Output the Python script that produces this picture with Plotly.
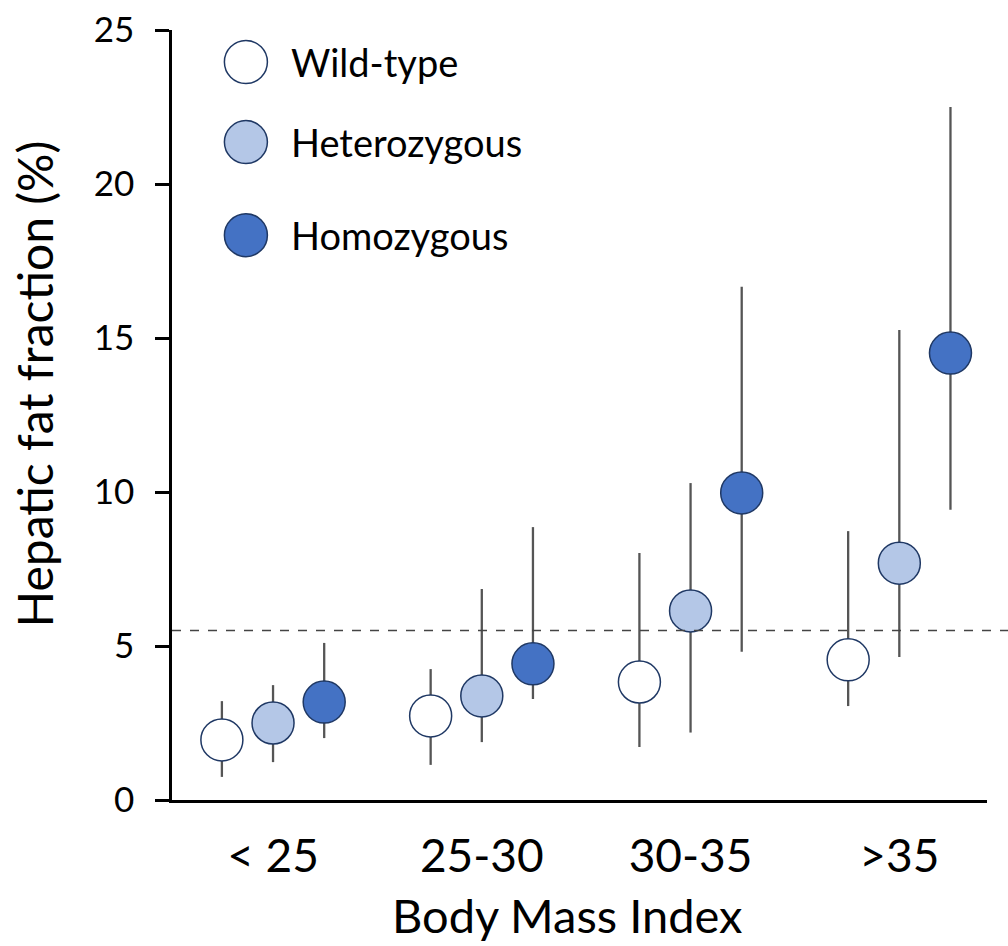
import plotly.graph_objects as go

# ---- data ----
categories = ["< 25", "25-30", "30-35", ">35"]
genotypes = ["Wild-type", "Heterozygous", "Homozygous"]

wt_mean = [1.95, 2.73, 3.83, 4.55]
wt_low = [0.75, 1.14, 1.72, 3.05]
wt_high = [3.21, 4.25, 8.02, 8.73]

het_mean = [2.50, 3.38, 6.14, 7.69]
het_low = [1.23, 1.88, 2.19, 4.64]
het_high = [3.73, 6.85, 10.29, 15.26]

hom_mean = [3.18, 4.42, 9.97, 14.51]
hom_low = [2.01, 3.28, 4.81, 9.42]
hom_high = [5.10, 8.86, 16.66, 22.50]

threshold = 5.5
y_ticks = [0, 5, 10, 15, 20, 25]

# ---- style ----
FONT = "Lato, Carlito, 'Liberation Sans', sans-serif"
fills = ["#FFFFFF", "#B4C7E7", "#4472C4"]
outline = "#1F3864"
err_color = "#555555"
offsets = [-0.245, 0.0, 0.245]
means = [wt_mean, het_mean, hom_mean]
lows = [wt_low, het_low, hom_low]
highs = [wt_high, het_high, hom_high]

fig = go.Figure()

for g in range(3):
    xs = [i + offsets[g] for i in range(len(categories))]
    m = means[g]
    fig.add_trace(go.Scatter(
        x=xs, y=m, mode="markers", name=genotypes[g], showlegend=False,
        marker=dict(size=42, color=fills[g], line=dict(color=outline, width=1.5)),
        error_y=dict(type="data", symmetric=False,
                     array=[h - v for h, v in zip(highs[g], m)],
                     arrayminus=[v - l for l, v in zip(lows[g], m)],
                     color=err_color, thickness=2.3, width=0),
    ))

# manual legend (markers + labels)
leg_x = -0.13
leg_y = [23.96, 21.36, 18.34]
fig.add_trace(go.Scatter(
    x=[leg_x] * 3, y=leg_y, mode="markers", showlegend=False, hoverinfo="skip",
    marker=dict(size=43, color=fills, line=dict(color=outline, width=1.5)),
))
for g in range(3):
    fig.add_annotation(x=0.075, y=leg_y[g], xref="x", yref="y", text=genotypes[g],
                       showarrow=False, xanchor="left", yanchor="middle",
                       font=dict(family=FONT, size=38, color="black"))

# threshold dashed line
fig.add_shape(type="line", xref="paper", yref="y", x0=0, x1=1.03, y0=threshold, y1=threshold,
              line=dict(color="#444444", width=1.5, dash="dash"))

# axis titles as annotations
fig.add_annotation(x=-0.169, y=0.54, xref="paper", yref="paper",
                   text="Hepatic fat fraction (%)", textangle=-90, showarrow=False,
                   xanchor="center", yanchor="middle",
                   font=dict(family=FONT, size=48, color="black"))
fig.add_annotation(x=0.485, y=-0.1885, xref="paper", yref="paper",
                   text="Body Mass Index", showarrow=False,
                   xanchor="center", yanchor="bottom",
                   font=dict(family=FONT, size=47, color="black"))

fig.update_layout(
    width=1008, height=946,
    margin=dict(l=172, r=21, t=30, b=146),
    paper_bgcolor="white", plot_bgcolor="white",
    font=dict(family=FONT, color="black"),
    showlegend=False,
    xaxis=dict(range=[-0.484, 3.42], tickvals=list(range(len(categories))), ticktext=categories,
               showgrid=False, zeroline=False, showline=True, linecolor="black", linewidth=2.5,
               ticks="", tickfont=dict(family=FONT, size=46, color="black"),
               ticklabelstandoff=14, automargin=False),
    yaxis=dict(range=[0, 25], tickvals=y_ticks, showgrid=False, zeroline=False,
               showline=True, linecolor="black", linewidth=2.5,
               ticks="outside", ticklen=14, tickwidth=2.5, tickcolor="black",
               tickfont=dict(family=FONT, size=35, color="black"),
               ticklabelstandoff=14, automargin=False),
)

fig.write_html("out.html")
